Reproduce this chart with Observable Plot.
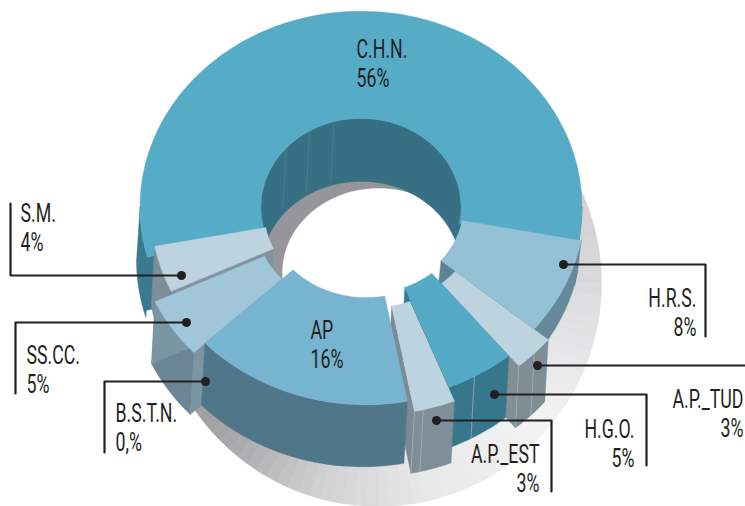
<!DOCTYPE html>
<html><head><meta charset="utf-8">
<style>html,body{margin:0;padding:0;background:#fff}svg{display:block}</style>
<script src="https://cdn.jsdelivr.net/npm/d3@7"></script>
<script src="https://cdn.jsdelivr.net/npm/@observablehq/plot@0.6"></script>
</head><body><div id="chart"></div>
<script>
// ---- data ----
const categories = ["C.H.N.","H.R.S.","A.P._TUD","H.G.O.","A.P._EST","AP","B.S.T.N.","SS.CC.","S.M."];
const shares     = [56,8,3,5,3,16,0,5,4];
const shareText  = ["56%","8%","3%","5%","3%","16%","0,%","5%","4%"];

// ---- styles per category ----
const topColors  = ["#56abc7","#94c1d5","#bdd3e0","#54a9c6","#bdd3e0","#76b4cf","#7b96a3","#a0c6d8","#bdd3e0"];
const wallColors = ["#3a7a90","#66899b","#7e8d96","#37778c","#7f8f99","#4f7789","#7b96a3","#6c8594","#7e8e98"];
const sideColors = ["#376f83","#5f8396","#828f96","#2f7b90","#7b8a94","#4f7789","#7b96a3","#7b96a3","#82939d"];
const explodeX   = [0,3,17,7,12,5,0,-6,3];
const explodeY   = [0,-3,8,-2,12,2,0,11.5,4];
const trim       = [0,0,0,0,0,0,0,0,8];
const depths     = [62,32,62,62,62,62,62,62,60];

// ---- layout of the drawing ----
const cx = 360.5, cy = 206.5, outerR = 221, innerR = 100, squash = 0.886, depth = 62, lean = -3.5;

// ---- labels and leaders ----
const labelX      = [356,696,743,634,539,310,115,26,20];
const labelY      = [57,306,407,437,462,338,421,363,221];
const labelAnchor = ["start","end","end","end","end","start","start","start","start"];
const lineGap = 29;
const leaders = [
  {c:"H.R.S.",   xs:[563,705,705],     ys:[264,264,336]},
  {c:"A.P._TUD", xs:[537,745],         ys:[365,365]},
  {c:"H.G.O.",   xs:[494,646,646],     ys:[394,394,465]},
  {c:"A.P._EST", xs:[436,551,551],     ys:[420,420,491]},
  {c:"B.S.T.N.", xs:[205,104,104],     ys:[381,381,452]},
  {c:"SS.CC.",   xs:[186,15,15],       ys:[322,322,393]},
  {c:"S.M.",     xs:[181,10,10],       ys:[275,275,203]}
];
const shadowStops = [[0,"#c4c4c7"],[40,"#c8c8cb"],[90,"#dadadc"],[130,"#f3f3f4"],[165,"#e9e9ea"],[195,"#d2d2d3"],[222,"#a9a9ab"],[240,"#9a9a9c"],[360,"#c4c4c7"]];
const wallSeams = [[2,0],[2,.5],[3,.4],[4,0],[4,.22]];
const holeSeams = [-48.6,-31,-15.7];

// ---- geometry derived from the shares ----
const rad = d => d * Math.PI / 180;
let acc = -shares[0] * 1.8;
const slices = categories.map((c,i) => {
  const a0 = acc; acc += shares[i] * 3.6;
  return {c, i, a0, a1: acc, dx: explodeX[i], dy: explodeY[i], rO: outerR - trim[i], d: depths[i]};
});
const pt = (s, a, r) => [cx + s.dx + r*Math.sin(rad(a)), cy + s.dy - r*squash*Math.cos(rad(a))];
const drop = (p, d) => [p[0] + lean, p[1] + d];
const arc = (s, a, b, r) => { const n = Math.max(2, Math.ceil(Math.abs(b-a)/1.5)); return d3.range(n+1).map(k => pt(s, a+(b-a)*k/n, r)); };

const polys = [];
const add = (pts, fill) => { const id = polys.length; polys.push({id, pts:[...pts, pts[0]], fill}); };
const face = (s, a0=s.a0, a1=s.a1) => add([...arc(s,a0,a1,s.rO), ...arc(s,a1,a0,innerR)], topColors[s.i]);
const outerWall = (s, a=s.a0, b=s.a1, d=s.d, fill=wallColors[s.i]) => { const t = arc(s,a,b,s.rO); add([...t, ...t.slice().reverse().map(p=>drop(p,d))], fill); };
const sideWall = (s, a, fill=sideColors[s.i], d=s.d) => { const p=pt(s,a,innerR), q=pt(s,a,s.rO); add([p,q,drop(q,d),drop(p,d)], fill); };

// background shadow: a disc seen under the ring, toned by direction
const tone = d3.scaleLinear().domain(shadowStops.map(d=>d[0])).range(shadowStops.map(d=>d[1])).interpolate(d3.interpolateRgb);
for (let a=0; a<360; a+=3) {
  const P = t => [378+223*Math.sin(rad(t)), 283-223*Math.cos(rad(t))];
  add([[378,283],P(a),P(a+1.5),P(a+3)], tone(a+1.5));
}
// hole: grey floor and the white opening
const ell = (x,y,rx,ry) => d3.range(0,360,3).map(t=>[x+rx*Math.cos(rad(t)), y+ry*Math.sin(rad(t))]);
add(ell(360,235,100,92), "#96969a");
add(ell(378,272,96,84), "#ffffff");

const [chn,hrs,tud,hgo,est,ap,bstn,ss,sm] = slices;
// inner wall of the large slice
{ const t = arc(chn,-90,90,innerR); add([...t, ...t.slice().reverse().map(p=>drop([p[0]+3.5,p[1]],depth+1))], sideColors[0]); }
outerWall(chn,chn.a0-6,-90,54);
sideWall(chn,chn.a0-4,wallColors[0],54);
outerWall(chn,90,chn.a1,42);
face(chn,chn.a0-4,chn.a1);
outerWall(sm); sideWall(sm,sm.a0); face(sm);
outerWall(ss); sideWall(ss,ss.a0,topColors[6]); sideWall(ss,ss.a1); face(ss);
outerWall(hrs); sideWall(hrs,hrs.a1); face(hrs);
sideWall(tud,tud.a1); sideWall(hgo,hgo.a1); sideWall(est,est.a1);
sideWall(est,est.a0,wallColors[4]);
outerWall(ap); face(ap);
outerWall(hgo); face(hgo);
outerWall(tud); face(tud);
outerWall(est); face(est);

const rows = polys.flatMap(p => p.pts.map(([x,y]) => ({x,y,id:p.id,fill:p.fill})));

// seams on the walls
const seamRows = [];
wallSeams.forEach(([k,f],j) => { const s=slices[k], a=s.a1-(s.a1-s.a0)*f, p=pt(s,a,s.rO), q=drop(p,s.d);
  seamRows.push({x:p[0],y:p[1],id:"w"+j},{x:q[0],y:q[1],id:"w"+j}); });
const seamHole = [];
holeSeams.forEach((a,j)=>{ const p=pt(chn,a,innerR); seamHole.push({x:p[0],y:p[1],id:j},{x:p[0]-3,y:p[1]+60,id:j}); });

// labels
const labelRows = categories.flatMap((c,i) => [
  {t:c, x:labelX[i], y:labelY[i], a:labelAnchor[i]},
  {t:shareText[i], x:labelX[i], y:labelY[i]+lineGap, a:labelAnchor[i]}
]);
const leaderRows = leaders.flatMap(l => l.xs.map((x,k)=>({x,y:l.ys[k],id:l.c})));
const dots = leaders.map(l => ({x:l.xs[0],y:l.ys[0]}));
const textOpts = {x:"x",y:"y",text:"t",lineAnchor:"bottom",fontSize:25,fontWeight:400,fontFamily:"Roboto,sans-serif",fill:"#231f20",className:"lab"};

const chart = Plot.plot({
  width:745, height:506, margin:0,
  x:{domain:[0,745],range:[0,745],axis:null},
  y:{domain:[0,506],range:[0,506],axis:null},
  color:{type:"identity"},
  marks:[
    Plot.line(rows,{x:"x",y:"y",z:"id",fill:"fill",stroke:"fill",strokeWidth:0.4,curve:"linear"}),
    Plot.line(seamRows,{x:"x",y:"y",z:"id",stroke:"#a8b5bc",strokeWidth:0.7}),
    Plot.line(seamHole,{x:"x",y:"y",z:"id",stroke:"#4f8295",strokeWidth:0.7}),
    Plot.line(leaderRows,{x:"x",y:"y",z:"id",stroke:"#231f20",strokeWidth:2.2,curve:"linear"}),
    Plot.dot(dots,{x:"x",y:"y",r:4.5,fill:"#231f20"}),
    Plot.text(labelRows.filter(d=>d.a==="start"),{...textOpts,textAnchor:"start"}),
    Plot.text(labelRows.filter(d=>d.a==="end"),{...textOpts,textAnchor:"end"})
  ]
});
// the reference uses a condensed face: narrow the installed one horizontally
chart.querySelectorAll("g.lab text, .lab text").forEach(t => {
  t.setAttribute("transform", (t.getAttribute("transform")||"") + " scale(0.71,1)");
});
document.getElementById("chart").appendChild(chart);
</script></body></html>
